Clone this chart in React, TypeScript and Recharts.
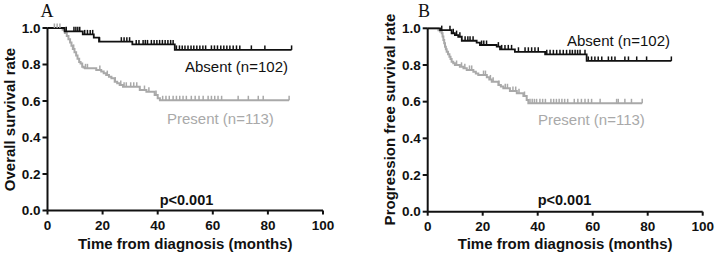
import { ComposedChart, Line, Scatter, XAxis, YAxis } from "recharts";

const xTicks = [0, 20, 40, 60, 80, 100];
const yTicks = [0, 0.2, 0.4, 0.6, 0.8, 1.0];

// Panel A: overall survival
const osAbsentTime = [0, 6.2, 12.8, 16.8, 18.7, 30.8, 46.2, 88.6];
const osAbsentRate = [1.0, 0.982, 0.965, 0.947, 0.925, 0.91, 0.88, 0.88];
const osAbsentCensored = [
  6.8, 9.6, 10.3, 11.0, 11.7, 13.5, 14.5, 15.5, 16.4, 18.9, 26.8, 27.8, 28.8, 29.8, 32.2, 33.2, 34.7,
  35.5, 36.3, 37.7, 38.7, 39.7, 40.7, 41.7, 42.7, 43.7, 44.7, 45.6, 46.8, 47.9, 48.9, 49.9, 51.0, 52.1,
  53.1, 54.2, 55.3, 56.4, 57.4, 59.5, 60.6, 61.7, 62.9, 64.0, 65.1, 66.2, 67.4, 68.6, 69.8, 74.0, 78.9,
  88.6,
];

const osPresentTime = [
  0, 5.5, 6.3, 7.0, 7.6, 8.2, 8.7, 9.2, 9.8, 10.4, 10.9, 11.5, 12.0, 12.6, 13.1, 13.6, 17.7, 19.5, 20.4,
  21.3, 22.3, 23.2, 24.4, 25.3, 26.2, 27.4, 33.5, 35.9, 38.9, 40.0, 40.8, 87.7,
];
const osPresentRate = [
  1.0, 0.991, 0.973, 0.956, 0.938, 0.92, 0.903, 0.885, 0.867, 0.85, 0.832, 0.814, 0.805, 0.788, 0.783,
  0.779, 0.77, 0.761, 0.752, 0.742, 0.733, 0.724, 0.706, 0.697, 0.688, 0.678, 0.66, 0.651, 0.633, 0.615,
  0.604, 0.604,
];
const osPresentCensored = [
  2.5, 3.5, 4.5, 9.5, 13.8, 14.5, 19.0, 21.7, 24.6, 26.6, 27.8, 28.6, 30.2, 31.3, 32.4, 35.2, 36.8, 39.4,
  41.8, 43.0, 44.2, 45.6, 46.8, 48.0, 49.2, 50.4, 52.2, 53.6, 55.0, 56.5, 58.3, 59.5, 60.7, 61.9, 63.2,
  69.2, 72.9, 76.5, 78.3, 87.7,
];

// Panel B: progression free survival
const pfsAbsentTime = [0, 4.5, 8.7, 9.9, 11.1, 12.4, 17.8, 19.0, 25.1, 26.3, 31.7, 42.7, 57.8, 88.6];
const pfsAbsentRate = [1.0, 0.99, 0.973, 0.963, 0.954, 0.932, 0.922, 0.909, 0.9, 0.885, 0.872, 0.858, 0.822, 0.822];
const pfsAbsentCensored = [
  5.1, 8.1, 9.3, 10.5, 11.7, 13.6, 14.6, 15.4, 16.5, 19.6, 20.4, 21.4, 25.7, 26.9, 28.1, 29.3, 30.5, 33.0,
  35.4, 36.6, 37.8, 39.0, 40.2, 43.3, 44.5, 45.7, 46.9, 48.1, 49.3, 50.5, 51.7, 52.6, 53.6, 54.5, 55.4,
  57.2, 58.4, 59.6, 60.8, 62.0, 63.3, 65.7, 66.9, 68.1, 71.7, 73.0, 76.0, 79.6, 88.6,
];

const pfsPresentTime = [
  0, 3.9, 4.5, 5.1, 5.4, 5.7, 6.0, 6.3, 6.6, 6.9, 7.4, 7.9, 8.3, 8.7, 9.3, 9.9, 11.7, 13.0, 14.2, 16.6,
  17.5, 18.4, 21.5, 22.4, 23.3, 25.7, 26.6, 27.5, 29.9, 32.4, 34.8, 36.0, 36.6, 78.0,
];
const pfsPresentRate = [
  1.0, 0.99, 0.982, 0.973, 0.955, 0.936, 0.918, 0.9, 0.886, 0.872, 0.858, 0.845, 0.832, 0.818, 0.809, 0.8,
  0.79, 0.782, 0.773, 0.763, 0.754, 0.745, 0.733, 0.721, 0.709, 0.691, 0.682, 0.673, 0.658, 0.646, 0.631,
  0.609, 0.591, 0.591,
];
const pfsPresentCensored = [
  10.5, 12.3, 13.5, 15.2, 16.0, 20.3, 21.0, 22.8, 23.8, 25.9, 28.2, 29.0, 31.0, 32.0, 33.2, 35.2, 37.2,
  38.0, 38.8, 39.6, 40.8, 41.8, 42.8, 44.8, 45.8, 46.8, 47.8, 48.8, 49.8, 50.9, 53.3, 54.6, 55.9, 57.2,
  58.4, 59.6, 62.7, 68.7, 69.3, 71.7, 74.1, 78.0,
];

const BLACK = "#111";
const GRAY = "#a9a9a9";
const SANS = "'Liberation Sans', Arial, Helvetica, sans-serif";

const toSteps = (time: number[], rate: number[]) => time.map((t, i) => ({ t, s: rate[i] }));

// censor marks sit on the curve level at their time
const levelAt = (time: number[], rate: number[], x: number) => {
  let v = rate[0];
  for (let i = 0; i < time.length; i++) if (time[i] <= x) v = rate[i];
  return v;
};
const toCensor = (time: number[], rate: number[], marks: number[]) =>
  marks.map((t) => ({ t, s: levelAt(time, rate, t) }));

const censorShape = (color: string) => (p: any) =>
  <line x1={p.cx} x2={p.cx} y1={p.cy - 4.5} y2={p.cy} stroke={color} strokeWidth={1.5} />;

type PanelProps = {
  letter: string;
  yLabel: string;
  absent: [number[], number[], number[]];
  present: [number[], number[], number[]];
  width: number;
  margin: { top: number; right: number; bottom: number; left: number };
  xAxisHeight: number;
  yLabelX: number;
  letterX: number;
  absentPos: [number, number];
  presentPos: [number, number];
  pX: number;
};

const Panel = (p: PanelProps) => {
  const [aT, aR, aC] = p.absent;
  const [pT, pR, pC] = p.present;
  const plotW = p.width - p.margin.left - 30 - p.margin.right;
  const midX = p.margin.left + 30 + plotW / 2;
  return (
    <ComposedChart width={p.width} height={257} margin={p.margin}>
      <XAxis
        dataKey="t"
        type="number"
        domain={[0, 100]}
        ticks={xTicks}
        height={p.xAxisHeight}
        stroke={BLACK}
        strokeWidth={2}
        tickSize={4}
        tickMargin={6}
        tick={{ fill: BLACK, fontSize: 13.5, fontWeight: 700, fontFamily: SANS }}
      />
      <YAxis
        dataKey="s"
        type="number"
        domain={[0, 1]}
        ticks={yTicks}
        width={30}
        stroke={BLACK}
        strokeWidth={2}
        tickSize={5}
        tickMargin={2}
        tickFormatter={(v: number) => v.toFixed(1)}
        tick={{ fill: BLACK, fontSize: 13.5, fontWeight: 700, fontFamily: SANS }}
      />
      <Line
        data={toSteps(pT, pR)}
        dataKey="s"
        type="stepAfter"
        stroke={GRAY}
        strokeWidth={2}
        dot={false}
        isAnimationActive={false}
      />
      <Scatter data={toCensor(pT, pR, pC)} dataKey="s" shape={censorShape(GRAY)} isAnimationActive={false} />
      <Line
        data={toSteps(aT, aR)}
        dataKey="s"
        type="stepAfter"
        stroke={BLACK}
        strokeWidth={1.8}
        dot={false}
        isAnimationActive={false}
      />
      <Scatter data={toCensor(aT, aR, aC)} dataKey="s" shape={censorShape(BLACK)} isAnimationActive={false} />

      <text x={p.letterX} y={17} fontFamily="'Liberation Serif', 'Times New Roman', serif" fontSize={18} fill={BLACK}>
        {p.letter}
      </text>
      <text
        x={p.yLabelX}
        y={119.5}
        transform={`rotate(-90, ${p.yLabelX}, 119.5)`}
        textAnchor="middle"
        fontFamily={SANS}
        fontSize={15}
        fontWeight={700}
        fill={BLACK}
      >
        {p.yLabel}
      </text>
      <text x={midX} y={249} textAnchor="middle" fontFamily={SANS} fontSize={15} fontWeight={700} fill={BLACK}>
        Time from diagnosis (months)
      </text>
      <text x={p.pX} y={204.5} textAnchor="middle" fontFamily={SANS} fontSize={14.5} fontWeight={700} fill={BLACK}>
        p&lt;0.001
      </text>
      <text x={p.absentPos[0]} y={p.absentPos[1]} fontFamily={SANS} fontSize={15} fill={BLACK}>
        Absent (n=102)
      </text>
      <text x={p.presentPos[0]} y={p.presentPos[1]} fontFamily={SANS} fontSize={15} fill={GRAY}>
        Present (n=113)
      </text>
    </ComposedChart>
  );
};

export default function App() {
  return (
    <div style={{ position: "absolute", left: 0, top: 0, width: 715, height: 257, background: "#fff" }}>
      <div style={{ position: "absolute", left: 0, top: 0 }}>
        <Panel
          letter="A"
          yLabel="Overall survival rate"
          absent={[osAbsentTime, osAbsentRate, osAbsentCensored]}
          present={[osPresentTime, osPresentRate, osPresentCensored]}
          width={357}
          margin={{ top: 28, right: 34, bottom: 0, left: 17.5 }}
          xAxisHeight={46.5}
          yLabelX={15}
          letterX={40.5}
          absentPos={[185, 72]}
          presentPos={[167, 124]}
          pX={186.5}
        />
      </div>
      <div style={{ position: "absolute", left: 357, top: 0 }}>
        <Panel
          letter="B"
          yLabel="Progression free survival rate"
          absent={[pfsAbsentTime, pfsAbsentRate, pfsAbsentCensored]}
          present={[pfsPresentTime, pfsPresentRate, pfsPresentCensored]}
          width={358}
          margin={{ top: 28.3, right: 12.3, bottom: 0, left: 40.7 }}
          xAxisHeight={45.3}
          yLabelX={37.5}
          letterX={61}
          absentPos={[210, 46]}
          presentPos={[181, 125]}
          pX={207.5}
        />
      </div>
    </div>
  );
}
